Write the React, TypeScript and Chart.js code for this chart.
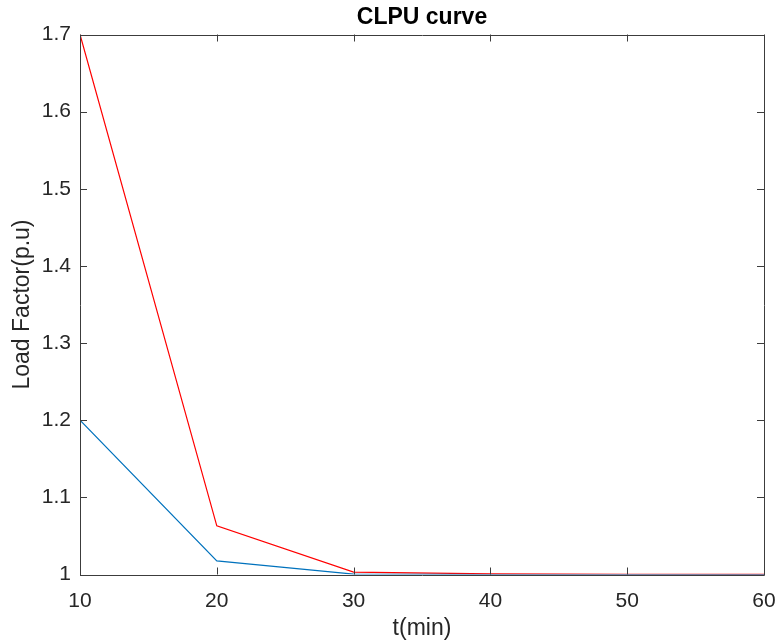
import React, { useEffect, useRef } from "react";
import { Chart, registerables } from "chart.js";

Chart.register(...registerables);

const times = [10, 20, 30, 40, 50, 60];
const redLoad = [1.7, 1.063, 1.003, 1.0008, 1.0003, 1.0001];
const blueLoad = [1.2, 1.0176, 1.0005, 1.0, 1.0, 1.0];
const xTicks = [10, 20, 30, 40, 50, 60];
const yTicks = [1, 1.1, 1.2, 1.3, 1.4, 1.5, 1.6, 1.7];
const chartTitle = "CLPU curve";

const FONT = "'Liberation Sans', Arial, Helvetica, sans-serif";
const AXIS_COLOR = "#262626";

const boxPlugin = {
  id: "matlabBox",
  afterDraw(chart: any) {
    const { ctx, chartArea } = chart;
    const { left, right, top, bottom } = chartArea;
    const xs = chart.scales.x;
    const ys = chart.scales.y;
    ctx.save();
    ctx.strokeStyle = "#3c3c3c";
    ctx.lineWidth = 1;
    ctx.beginPath();
    ctx.rect(Math.round(left) + 0.5, Math.round(top) + 0.5, Math.round(right - left), Math.round(bottom - top));
    ctx.stroke();
    const tl = 7;
    ctx.beginPath();
    xTicks.forEach((v) => {
      const px = Math.round(xs.getPixelForValue(v)) + 0.5;
      ctx.moveTo(px, bottom);
      ctx.lineTo(px, bottom - tl);
      ctx.moveTo(px, top);
      ctx.lineTo(px, top + tl);
    });
    yTicks.forEach((v) => {
      const py = Math.round(ys.getPixelForValue(v)) + 0.5;
      ctx.moveTo(left, py);
      ctx.lineTo(left + tl, py);
      ctx.moveTo(right, py);
      ctx.lineTo(right - tl, py);
    });
    ctx.stroke();
    // title centred over the plot area
    ctx.fillStyle = "#000000";
    ctx.font = `bold 23px ${FONT}`;
    ctx.textAlign = "center";
    ctx.textBaseline = "middle";
    ctx.fillText(chartTitle, (left + right) / 2, 18);
    ctx.restore();
  },
};

export default function App() {
  const ref = useRef<HTMLCanvasElement | null>(null);

  useEffect(() => {
    if (!ref.current) return;
    const chart = new Chart(ref.current, {
      type: "line",
      data: {
        datasets: [
          {
            label: "blue",
            data: times.map((t, i) => ({ x: t, y: blueLoad[i] })),
            borderColor: "#0072BD",
            borderWidth: 1.2,
            pointRadius: 0,
            fill: false,
            tension: 0,
          },
          {
            label: "red",
            data: times.map((t, i) => ({ x: t, y: redLoad[i] })),
            borderColor: "#FF0000",
            borderWidth: 1.2,
            pointRadius: 0,
            fill: false,
            tension: 0,
          },
        ],
      },
      options: {
        responsive: false,
        animation: false,
        layout: { padding: { left: 0, right: 14, top: 34.5, bottom: 0 } },
        plugins: {
          legend: { display: false },
          tooltip: { enabled: false },
          title: { display: false },
        },
        scales: {
          x: {
            type: "linear",
            min: 10,
            max: 60,
            afterFit: (s: any) => {
              s.height = 642 - 574.5;
              s.paddingLeft = 0;
              s.paddingRight = 0;
            },
            afterBuildTicks: (s: any) => {
              s.ticks = xTicks.map((v) => ({ value: v }));
            },
            grid: { display: false, drawTicks: false },
            border: { display: false },
            ticks: {
              color: AXIS_COLOR,
              padding: 14,
              maxRotation: 0,
              font: { family: FONT, size: 21 },
              callback: (v: any) => String(v),
            },
            title: {
              display: true,
              text: "t(min)",
              color: AXIS_COLOR,
              font: { family: FONT, size: 23, lineHeight: 1.2 },
              padding: { top: 0, bottom: 0 },
            },
          },
          y: {
            type: "linear",
            min: 1,
            max: 1.7,
            afterFit: (s: any) => {
              s.width = 80;
              s.paddingTop = 0;
              s.paddingBottom = 0;
            },
            afterBuildTicks: (s: any) => {
              s.ticks = yTicks.map((v) => ({ value: v }));
            },
            grid: { display: false, drawTicks: false },
            border: { display: false },
            ticks: {
              color: AXIS_COLOR,
              padding: 9,
              font: { family: FONT, size: 21 },
              callback: (v: any) => String(Math.round(Number(v) * 10) / 10),
            },
            title: {
              display: true,
              text: "Load Factor(p.u)",
              color: AXIS_COLOR,
              font: { family: FONT, size: 23, lineHeight: 1.2 },
              padding: { top: 9, bottom: 0 },
            },
          },
        },
      },
      plugins: [boxPlugin],
    });
    return () => chart.destroy();
  }, []);

  return (
    <div style={{ position: "absolute", left: 0, top: 0, width: 778, height: 642, background: "#ffffff" }}>
      <canvas ref={ref} width={778} height={642} style={{ display: "block", width: 778, height: 642 }} />
    </div>
  );
}
